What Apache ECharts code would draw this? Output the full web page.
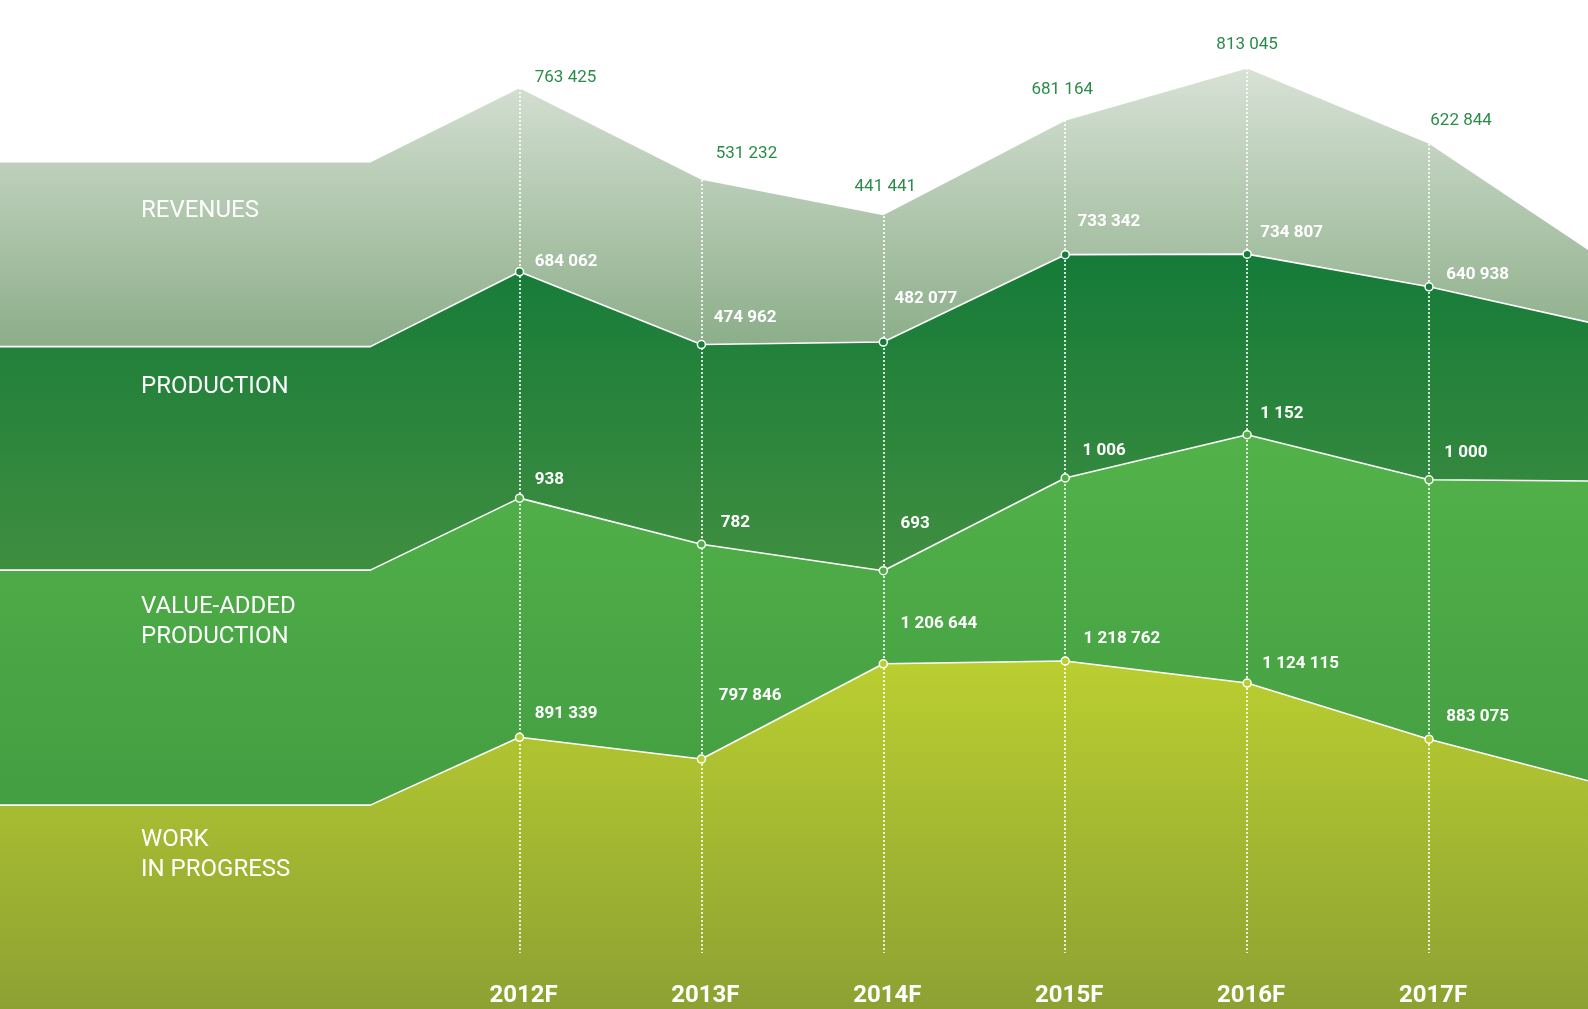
<!DOCTYPE html>
<html>
<head>
<meta charset="utf-8">
<script src="https://cdn.jsdelivr.net/npm/echarts@6/dist/echarts.min.js"></script>
<style>
    html, body { margin: 0; padding: 0; background: #fff; }
    #chart { width: 1588px; height: 1009px; }
</style>
</head>
<body>
<div id="chart"></div>
<script>
// values
const years = ['2012F', '2013F', '2014F', '2015F', '2016F', '2017F']
const seriesNames = ['REVENUES', 'PRODUCTION', 'VALUE-ADDED\nPRODUCTION', 'WORK\nIN PROGRESS']
const revenues = [763425, 531232, 441441, 681164, 813045, 622844]
const production = [684062, 474962, 482077, 733342, 734807, 640938]
const valueAdded = [938, 782, 693, 1006, 1152, 1000]
const workInProgress = [891339, 797846, 1206644, 1218762, 1124115, 883075]
// unlabelled lead-in level on the left and run-out level past 2017F (estimated)
const leadLevels = [575000, 469000, 695, 600000]
const tailLevels = [315000, 525000, 995, 679000]

const FONT = 'Roboto, "Noto Sans", sans-serif'
const fmt = v => String(v).replace(/\B(?=(\d{3})+(?!\d))/g, ' ')

// each band is drawn on its own hidden scale
const bands = [
    {
        values: revenues, axis: [-1568000, 986600],
        grad: [[35, '#e1e8df'], [345, '#8cae89']],
        marker: 'rgba(0,0,0,0)', lineWidth: 0, labelColor: '#2b8b48', labelWeight: 'normal',
        offsets: [[16, -10], [15, -25], [-28, -28], [-33, -30], [-30, -23], [2, -22]]
    },
    {
        values: production, axis: [-1435300, 1465500],
        grad: [[240, '#137a38'], [570, '#3f8e40']],
        marker: '#187d3a', lineWidth: 1.6, labelColor: '#fff', labelWeight: 'bold',
        offsets: [[16, -9], [13, -26], [12, -43], [13, -32], [14, -21], [18, -11]]
    },
    {
        values: valueAdded, axis: [-787, 2620],
        grad: [[440, '#52b249'], [800, '#449e42']],
        marker: '#4fae48', lineWidth: 1.6, labelColor: '#fff', labelWeight: 'bold',
        offsets: [[16, -18], [20, -21], [18, -46], [18, -26], [14, -20], [16, -26]]
    },
    {
        values: workInProgress, axis: [-275200, 4056400],
        grad: [[620, '#c0d430'], [1009, '#8da133']],
        marker: '#b8cd31', lineWidth: 1.6, labelColor: '#fff', labelWeight: 'bold',
        offsets: [[16, -23], [18, -63], [18, -39], [19, -21], [16, -19], [18, -22]]
    }
]
const nameTops = [196, 372, 592, 825]

function points(band, i) {
    const hidden = { symbol: 'none', label: { show: false } }
    const pts = [
        { value: [-3, leadLevels[i]], ...hidden },
        { value: [-0.82, leadLevels[i]], ...hidden }
    ]
    band.values.forEach((v, k) => {
        const o = band.offsets[k]
        pts.push({ value: [k, v], label: { position: [o[0] + 4, o[1] + 4] } })
    })
    pts.push({ value: [6, tailLevels[i]], ...hidden })
    return pts
}

const yAxes = bands.map(b => ({
    type: 'value', gridIndex: 0, min: b.axis[0], max: b.axis[1], show: false
}))
yAxes.push({ type: 'value', gridIndex: 1, show: false })

const series = []
// filled bands first, lines and markers on top of the dotted guides
bands.forEach((b, i) => {
    series.push({
        type: 'line', name: seriesNames[i] + ' area', xAxisIndex: 0, yAxisIndex: i,
        data: points(b, i), showSymbol: false, symbol: 'none', silent: true, z: 1,
        lineStyle: { width: 0 },
        areaStyle: {
            origin: 'start', opacity: 1,
            color: new echarts.graphic.LinearGradient(0, b.grad[0][0], 0, b.grad[1][0], [
                { offset: 0, color: b.grad[0][1] },
                { offset: 1, color: b.grad[1][1] }
            ], true)
        }
    })
})
bands.forEach((b, i) => {
    series.push({
        type: 'line', name: seriesNames[i], xAxisIndex: 0, yAxisIndex: i,
        data: points(b, i), z: 3, silent: true,
        symbol: 'circle', symbolSize: 8,
        lineStyle: { color: '#fff', width: b.lineWidth || 0.01, opacity: b.lineWidth ? 1 : 0 },
        itemStyle: { color: b.marker, borderColor: b.lineWidth ? '#fff' : 'rgba(0,0,0,0)', borderWidth: 1.5 },
        label: {
            show: true, align: 'left', verticalAlign: 'middle',
            color: b.labelColor, fontWeight: b.labelWeight, fontSize: 17, fontFamily: FONT,
            formatter: p => fmt(p.value[1])
        }
    })
})

const mychart = echarts.init(document.getElementById('chart'))
mychart.setOption({
    backgroundColor: '#fff',
    animation: false,
    grid: [
        { left: 0, right: 0, top: 0, bottom: 0 },
        { left: 519.5, right: 159, top: 0, bottom: 56 }
    ],
    xAxis: [
        { type: 'value', gridIndex: 0, min: -2.856, max: 5.874, show: false },
        {
            type: 'category', gridIndex: 1, data: years, boundaryGap: false, z: 2,
            axisLine: { show: false },
            axisTick: { show: false },
            axisLabel: {
                interval: 0, margin: 31, color: '#fff', fontSize: 24,
                fontWeight: 'bold', fontFamily: FONT, padding: [0, 0, 0, 8]
            },
            splitLine: {
                show: true, interval: 0,
                lineStyle: { color: '#fff', width: 1.6, type: [2, 2] }
            }
        }
    ],
    yAxis: yAxes,
    series: series,
    graphic: seriesNames.map((name, i) => ({
        type: 'text', left: 141, top: nameTops[i], z: 5,
        style: { text: name, fill: '#fff', font: '24px ' + FONT, lineHeight: 30 }
    }))
})
</script>
</body>
</html>
